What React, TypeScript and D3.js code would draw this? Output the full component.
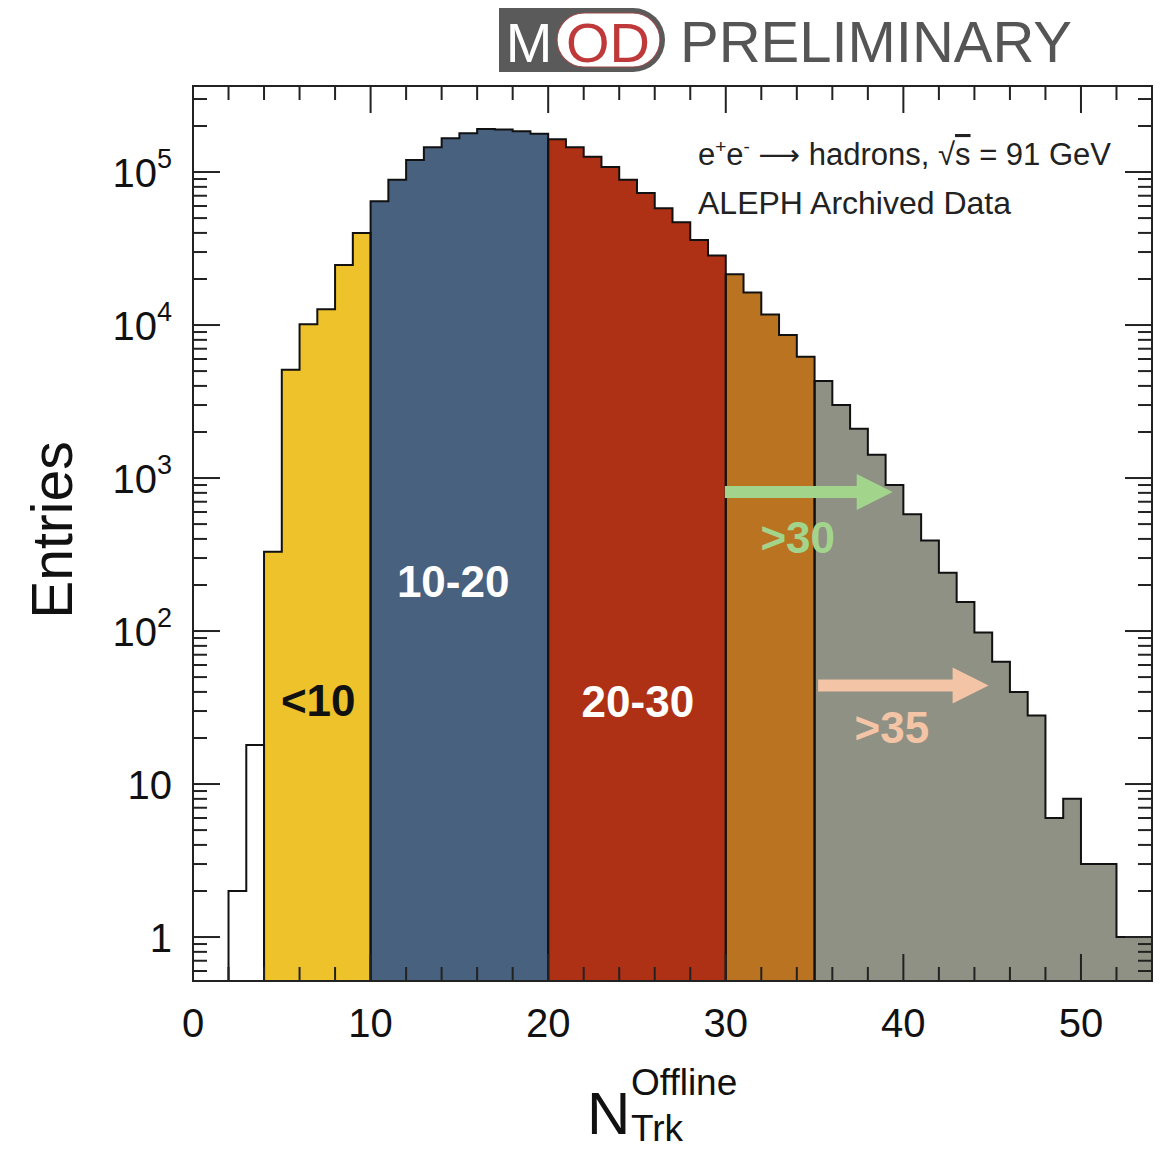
import React from "react";
import * as d3 from "d3";

// Track multiplicity histogram, one entry per unit-width bin starting at 0
const binLow = 0;
const binWidth = 1;
const entries = [
  0, 0, 2, 18, 330, 5100, 10100, 12700, 24700, 40000,
  64500, 89000, 120000, 145000, 166000, 179000, 191000, 190000, 185000, 178000,
  164000, 145000, 126000, 108000, 89000, 73000, 58000, 47000, 36000, 28500,
  21500, 16300, 11700, 8600, 6200, 4300, 3000, 2100, 1420, 900,
  580, 390, 240, 155, 98, 63, 40, 28, 6, 8,
  3, 3, 1, 1,
];

// Multiplicity classes that colour the histogram
const classStart = [0, 4, 10, 20, 30, 35];
const classEnd = [4, 10, 20, 30, 35, 54];
const classColor = ["#ffffff", "#EEC22B", "#48617F", "#AE3116", "#BA7421", "#8F9184"];

// Axis settings
const xDomain = [0, 54];
const yDomain = [0.516, 3.65e5];
const xMajorTicks = [0, 10, 20, 30, 40, 50];
const yMajorTicks = [1, 10, 100, 1000, 10000, 100000];

// Class labels inside the plot: text, x in N_trk, y in entries
const labelText = ["<10", "10-20", "20-30", ">30", ">35"];
const labelX = [7.05, 14.65, 25.05, 34.05, 39.35];
const labelY = [28, 167, 27.4, 325, 18.5];
const labelColor = ["#111111", "#ffffff", "#ffffff", "#A2D48C", "#F4C4A6"];

// Arrows pointing to the open-ended classes
const arrowFrom = [29.95, 35.2];
const arrowTo = [39.4, 44.8];
const arrowY = [810, 44];
const arrowColor = ["#A2D48C", "#F4C4A6"];

const FONT = "'Liberation Sans', Arial, Helvetica, sans-serif";

export default function App() {
  const left = 193;
  const right = 1152;
  const top = 86;
  const bottom = 981;

  const x = d3.scaleLinear().domain(xDomain).range([left, right]);
  const y = d3.scaleLog().domain(yDomain).range([bottom, top]);
  const yv = (v: number) => (v > yDomain[0] ? y(v) : bottom);

  // step outline of one class, closed down to the axis at both ends
  const outline = (a: number, b: number, close: boolean) => {
    const p = d3.path();
    p.moveTo(x(a), bottom);
    for (let i = a; i < b; i++) {
      const lo = binLow + i * binWidth;
      p.lineTo(x(lo), yv(entries[i]));
      p.lineTo(x(lo + binWidth), yv(entries[i]));
    }
    p.lineTo(x(b), bottom);
    if (close) p.closePath();
    return p.toString();
  };

  const xMinor = d3.range(0, 54, 2).filter((v) => !xMajorTicks.includes(v));
  const yMinor: number[] = [];
  for (let d = -1; d <= 5; d++) {
    for (let k = 2; k <= 9; k++) {
      const v = k * Math.pow(10, d);
      if (v > yDomain[0] && v < yDomain[1]) yMinor.push(v);
    }
  }
  const yMajorIn = yMajorTicks.filter((v) => v > yDomain[0] && v < yDomain[1]);

  const majLen = 27;
  const minLen = 14;

  return (
    <svg
      width={1167}
      height={1152}
      style={{ position: "absolute", left: 0, top: 0, background: "#fff" }}
      fontFamily={FONT}
    >
      {/* MOD preliminary badge */}
      <g>
        <path d="M499,8 H633 A32,32 0 0 1 633,72 H499 Z" fill="#5a5a5a" />
        <rect x={557} y={13} width={103} height={54} rx={27} fill="#ffffff" stroke="#9a4a4a" strokeWidth={1.2} />
        <text x={529} y={62} fontSize={56} fill="#ffffff" textAnchor="middle">M</text>
        <text x={608} y={62} fontSize={56} fill="#C0393A" textAnchor="middle">OD</text>
        <text x={680} y={62} fontSize={58} fill="#555555" textLength={392} lengthAdjust="spacingAndGlyphs">PRELIMINARY</text>
      </g>

      {/* histogram fill, one step area per class */}
      {classStart.map((s, j) => (
        <path key={"f" + j} d={outline(s, classEnd[j], true)} fill={classColor[j]} stroke="none" />
      ))}
      {classStart.map((s, j) => (
        <path key={"o" + j} d={outline(s, classEnd[j], false)} fill="none" stroke="#111" strokeWidth={2} strokeLinejoin="miter" />
      ))}

      {/* arrows */}
      {arrowFrom.map((a, i) => {
        const x0 = x(a);
        const x1 = x(arrowTo[i]);
        const yc = y(arrowY[i]);
        const hl = 36;
        const hw = 18;
        const sw = 6;
        const d = `M${x0},${yc - sw} H${x1 - hl} V${yc - hw} L${x1},${yc} L${x1 - hl},${yc + hw} V${yc + sw} H${x0} Z`;
        return <path key={"a" + i} d={d} fill={arrowColor[i]} />;
      })}

      {/* class labels */}
      {labelText.map((t, i) => (
        <text
          key={"l" + i}
          x={x(labelX[i])}
          y={y(labelY[i])}
          fontSize={44}
          fontWeight="bold"
          fill={labelColor[i]}
          textAnchor="middle"
        >
          {t}
        </text>
      ))}

      {/* frame */}
      <rect x={left} y={top} width={right - left} height={bottom - top} fill="none" stroke="#222" strokeWidth={2} />

      {/* x ticks, bottom and top */}
      {xMajorTicks.map((v) => (
        <g key={"xm" + v} stroke="#222" strokeWidth={2}>
          <line x1={x(v)} x2={x(v)} y1={bottom} y2={bottom - majLen} />
          <line x1={x(v)} x2={x(v)} y1={top} y2={top + majLen} />
        </g>
      ))}
      {xMinor.map((v) => (
        <g key={"xn" + v} stroke="#222" strokeWidth={2}>
          <line x1={x(v)} x2={x(v)} y1={bottom} y2={bottom - minLen} />
          <line x1={x(v)} x2={x(v)} y1={top} y2={top + minLen} />
        </g>
      ))}

      {/* y ticks, left and right */}
      {yMajorIn.map((v) => (
        <g key={"ym" + v} stroke="#222" strokeWidth={2}>
          <line x1={left} x2={left + majLen} y1={y(v)} y2={y(v)} />
          <line x1={right} x2={right - majLen} y1={y(v)} y2={y(v)} />
        </g>
      ))}
      {yMinor.map((v) => (
        <g key={"yn" + v} stroke="#222" strokeWidth={2}>
          <line x1={left} x2={left + minLen} y1={y(v)} y2={y(v)} />
          <line x1={right} x2={right - minLen} y1={y(v)} y2={y(v)} />
        </g>
      ))}

      {/* x tick labels */}
      {xMajorTicks.map((v) => (
        <text key={"xl" + v} x={x(v)} y={1037} fontSize={40} fill="#111" textAnchor="middle">
          {v}
        </text>
      ))}

      {/* y tick labels */}
      {yMajorIn.map((v) => {
        const e = Math.round(Math.log10(v));
        const yy = y(v) + 15;
        if (e === 0)
          return (
            <text key={"yl" + v} x={172} y={yy} fontSize={40} fill="#111" textAnchor="end">1</text>
          );
        if (e === 1)
          return (
            <text key={"yl" + v} x={172} y={yy} fontSize={40} fill="#111" textAnchor="end">10</text>
          );
        return (
          <text key={"yl" + v} x={172} y={yy} fontSize={40} fill="#111" textAnchor="end">
            <tspan>10</tspan>
            <tspan dy={-19} fontSize={27}>{e}</tspan>
          </text>
        );
      })}

      {/* axis titles */}
      <text
        transform={`translate(72,${530}) rotate(-90)`}
        fontSize={57}
        fill="#111"
        textAnchor="middle"
      >
        Entries
      </text>
      <text x={587} y={1134} fontSize={60} fill="#111">N</text>
      <text x={631} y={1095} fontSize={37} fill="#111">Offline</text>
      <text x={631} y={1141} fontSize={37} fill="#111">Trk</text>

      {/* process description */}
      <text x={698} y={165} fontSize={31} fill="#222">
        <tspan>e</tspan>
        <tspan dy={-12} fontSize={19}>+</tspan>
        <tspan dy={12}>e</tspan>
        <tspan dy={-12} fontSize={19}>-</tspan>
        <tspan dy={12}>{" "}</tspan>
        <tspan fontFamily="'DejaVu Sans', sans-serif" fontSize={29}>{"\u27F6"}</tspan>
        <tspan>{" hadrons, \u221A"}</tspan>
        <tspan textDecoration="overline">s</tspan>
        <tspan>{" = 91 GeV"}</tspan>
      </text>
      <text x={698} y={214} fontSize={32} fill="#222">ALEPH Archived Data</text>
    </svg>
  );
}
